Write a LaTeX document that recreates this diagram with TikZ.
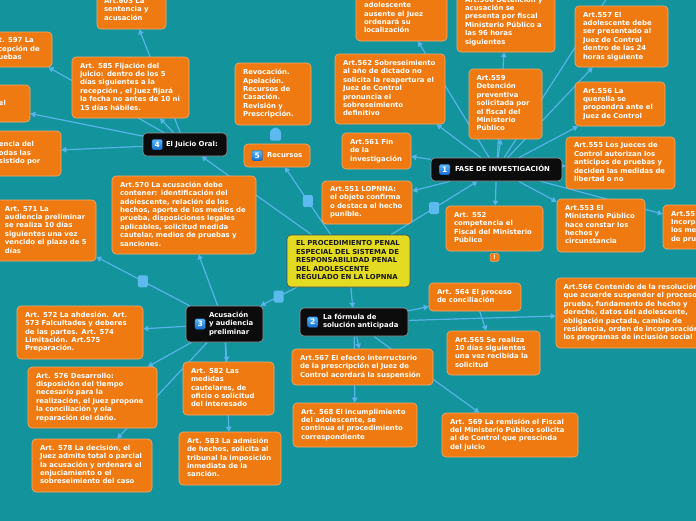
\documentclass[tikz,border=0pt]{standalone}
\usepackage{fontspec}
\newfontfamily\df{DejaVu Sans}
\usetikzlibrary{arrows.meta}
\definecolor{bgc}{RGB}{19,147,155}
\definecolor{orc}{RGB}{238,122,17}
\definecolor{orb}{RGB}{246,172,112}
\definecolor{lnc}{RGB}{86,180,232}
\definecolor{sqc}{RGB}{92,186,238}
\definecolor{ylc}{RGB}{227,219,34}
\definecolor{blk}{RGB}{12,12,12}
\definecolor{icT}{RGB}{90,185,250}
\definecolor{icB}{RGB}{20,110,210}
\pgfdeclarelayer{back}
\pgfsetlayers{back,main}
\newcommand\T[1]{\begin{tabular}{@{}l@{}}#1\end{tabular}}
\newcommand\bx[8]{%
 \pgfmathsetmacro\bxcx{(#3+#5)/2}%
 \pgfmathsetmacro\bxcy{(#4+#6)/2}%
 \pgfmathsetmacro\bxww{#5-#3}%
 \pgfmathsetmacro\bxhh{#6-#4}%
 \node[#1, minimum width=\bxww pt, minimum height=\bxhh pt, text width=\bxww pt, inner xsep=0pt, inner ysep=0pt] (#2) at (\bxcx,\bxcy) {\noindent\hspace*{#7pt}\T{#8}};}
\begin{document}
\begin{tikzpicture}[x=1pt,y=-1pt,
  ob/.style={rectangle, rounded corners=4pt, fill=orc, draw=orb, line width=0.6pt, text=white, font=\df\bfseries\fontsize{6.9}{8.4}\selectfont},
  bk/.style={rectangle, rounded corners=4pt, fill=blk, draw=gray!80, line width=0.6pt, text=white, font=\df\bfseries\fontsize{6.9}{8.4}\selectfont},
  yl/.style={rectangle, rounded corners=4pt, fill=ylc, draw=black!70, line width=0.6pt, text=black!90, font=\df\bfseries\fontsize{6.9}{8.6}\selectfont},
  conn/.style={draw=lnc, line width=1.2pt, -{Triangle[length=5pt,width=5.5pt]}},
  sq/.style={rectangle, rounded corners=1.5pt, fill=sqc, minimum width=10pt, minimum height=12pt, inner sep=0pt},
  ico/.style={rectangle, rounded corners=1.5pt, top color=icT, bottom color=icB, draw=icB!80!black, line width=0.4pt, minimum size=10.5pt, inner sep=0pt, text=white, font=\df\bfseries\fontsize{7.5}{7.5}\selectfont},
  warnb/.style={rectangle, rounded corners=1.5pt, fill=orc, draw=orb, line width=0.5pt, minimum width=9pt, minimum height=8pt, inner sep=0pt, text=white, font=\df\bfseries\fontsize{6}{6}\selectfont}
]
\useasboundingbox (0,0) rectangle (696,520);

% ---------- nodes ----------
\bx{yl}{n0}{287}{235}{410}{287}{9}{EL PROCEDIMIENTO PENAL\\ESPECIAL DEL SISTEMA DE\\RESPONSABILIDAD PENAL\\DEL ADOLESCENTE\\REGULADO EN LA LOPNNA}

\bx{bk}{n1}{431}{158}{562}{181}{24}{FASE DE INVESTIGACIÓN}
\bx{bk}{n2}{300}{308}{408}{336}{23}{La fórmula de\\solución anticipada}
\bx{bk}{n3}{186}{306}{263}{342}{23}{Acusación\\y audiencia\\preliminar}
\bx{bk}{n4}{143}{133}{227}{156}{23}{El Juicio Oral:}
\bx{ob}{n5}{244}{144}{310}{167}{23}{Recursos}
\node[ico] (i1) at ([xshift=14]n1.west) {1};
\node[ico] (i2) at ([xshift=13]n2.west) {2};
\node[ico] (i3) at ([xshift=14.5]n3.west) {3};
\node[ico] (i4) at ([xshift=14.5]n4.west) {4};
\node[ico] (i5) at ([xshift=13.5]n5.west) {5};

% Juicio oral children
\bx{ob}{n603}{97}{-9}{166}{29}{7}{Art.603 La\\sentencia y\\acusación}
\bx{ob}{n597}{-18}{32}{52}{67}{8}{Art. 597 La\\recepción de\\pruebas}
\bx{ob}{nel}{-70}{85}{30}{122}{69}{el}
\bx{ob}{nenc}{-100}{131}{61}{176}{99}{encia del\\odas las\\sistido por}
\bx{ob}{n585}{72}{57}{189}{118}{8}{Art. 585 Fijación del\\juicio: dentro de los 5\\días siguientes a la\\recepción , el Juez fijará\\la fecha no antes de 10 ni\\15 días hábiles.}

% Recursos child
\bx{ob}{nrev}{235}{63}{311}{125}{8}{Revocación.\\Apelación.\\Recursos de\\Casación.\\Revisión y\\Prescripción.}

% Fase de investigacion children
\bx{ob}{nado}{356}{-12}{447}{41}{8}{\\adolescente\\ausente el Juez\\ordenará su\\localización}
\bx{ob}{n560}{457}{-9}{555}{52}{8}{Art.560 Detención y\\acusación se\\presenta por fiscal\\Ministerio Público a\\las 96 horas\\siguientes}
\bx{ob}{n557}{575}{6}{668}{67}{8}{Art.557 El\\adolescente debe\\ser presentado al\\Juez de Control\\dentro de las 24\\horas siguiente}
\bx{ob}{n562}{335}{54}{445}{124}{8}{Art.562 Sobreseimiento\\al año de dictado no\\solicita la reapertura el\\Juez de Control\\pronuncia el\\sobreseimiento\\definitivo}
\bx{ob}{n559}{469}{69}{542}{139}{7.5}{Art.559\\Detención\\preventiva\\solicitada por\\el fiscal del\\Ministerio\\Público}
\bx{ob}{n556}{575}{82}{665}{126}{8}{Art.556 La\\querella se\\propondrá ante el\\Juez de Control}
\bx{ob}{n561}{342}{133}{411}{169}{8}{Art.561 Fin\\de la\\investigación}
\bx{ob}{n555}{566}{137}{675}{189}{8}{Art.555 Los Jueces de\\Control autorizan los\\anticipos de pruebas y\\deciden las medidas de\\libertad o no}
\bx{ob}{n551}{322}{181}{412}{224}{8}{Art.551 LOPNNA:\\el objeto confirma\\o destaca el hecho\\punible.}
\bx{ob}{n552}{446}{206}{543}{251}{8}{Art. 552\\competencia el\\Fiscal del Ministerio\\Público}
\bx{ob}{n553}{557}{199}{645}{252}{8}{Art.553 El\\Ministerio Público\\hace constar los\\hechos y\\circunstancia}
\bx{ob}{n554}{663}{205}{760}{249}{8}{Art.55\\Incorp\\los me\\de pru}
\node[warnb] (wb) at ([yshift=-6]n552.south) {!};
\coordinate (offtop) at (625,-30);

% Acusacion children
\bx{ob}{n570}{112}{176}{256}{254}{8}{Art.570 La acusación debe\\contener: identificación del\\adolescente, relación de los\\hechos, aporte de los medios de\\prueba, disposiciones legales\\aplicables, solicitud medida\\cautelar, medios de pruebas y\\sanciones.}
\bx{ob}{n571}{-4}{200}{96}{261}{9}{Art. 571 La\\audiencia preliminar\\se realiza 10 días\\siguientes una vez\\vencido el plazo de 5\\días}
\bx{ob}{n572}{17}{306}{143}{359}{8}{Art. 572 La ahdesión. Art.\\573 Falcultades y deberes\\de las partes. Art. 574\\Limitación. Art.575\\Preparación.}
\bx{ob}{n576}{28}{367}{157}{428}{8}{Art. 576 Desarrollo:\\disposición del tiempo\\necesario para la\\realización, el Juez propone\\la conciliación y ola\\reparación del daño.}
\bx{ob}{n578}{32}{439}{152}{492}{8}{Art. 578 La decisión, el\\Juez admite total o parcial\\la acusación y ordenará el\\enjuciamiento o el\\sobreseimiento del caso}
\bx{ob}{n582}{183}{362}{274}{415}{8}{Art. 582 Las\\medidas\\cautelares, de\\oficio o solicitud\\del interesado}
\bx{ob}{n583}{179}{432}{281}{485}{8}{Art. 583 La admisión\\de hechos, solicita al\\tribunal la imposición\\inmediata de la\\sanción.}

% Formula children
\bx{ob}{n564}{429}{283}{521}{311}{8}{Art. 564 El proceso\\de conciliación}
\bx{ob}{n565}{447}{331}{540}{375}{8}{Art.565 Se realiza\\10 días siguientes\\una vez recibida la\\solicitud}
\bx{ob}{n566}{556}{278}{760}{348}{7.5}{Art.566 Contenido de la resolución\\que acuerde suspender el proceso\\prueba, fundamento de hecho y\\derecho, datos del adolescente,\\obligación pactada, cambio de\\residencia, orden de incorporación\\los programas de inclusión social}
\bx{ob}{n567}{292}{349}{433}{385}{8}{Art.567 El efecto interructorio\\de la prescripción el Juez de\\Control acordará la suspensión}
\bx{ob}{n568}{293}{403}{417}{447}{8}{Art. 568 El incumplimiento\\del adolescente, se\\continua el procedimiento\\correspondiente}
\bx{ob}{n569}{442}{413}{578}{457}{8}{Art. 569 La remisión el Fiscal\\del Ministerio Público solicita\\al de Control que prescinda\\del juicio}

% ---------- background and connectors ----------
\begin{pgfonlayer}{back}
\fill[bgc] (-120,-40) rectangle (800,560);
\draw[conn] (n0) -- node[sq,pos=.5] (s1) {} (n1);
\draw[conn] (n0) -- (n2);
\draw[conn] (n0) -- node[sq,pos=.5] (s2) {} (n3);
\draw[conn] (n0) -- (n4);
\draw[conn] (n0) -- node[sq,pos=.5] (s3) {} (n5);
\fill[sqc, rounded corners=1.5pt] ([xshift=-7,yshift=3]n5.north) -- ([xshift=-7,yshift=13]n5.north) -- ([xshift=-1.5,yshift=17]n5.north) -- ([xshift=4,yshift=13]n5.north) -- ([xshift=4,yshift=3]n5.north) -- cycle;
\path (nrev.south) -- (n5.north);
% Juicio oral
\foreach \c in {n603,n597,nel,nenc,n585} \draw[conn] (n4) -- (\c);
% Fase
\foreach \c in {nado,n560,n559,n557,n562,n561,n556,n555,n551,n552,n553,n554} \draw[conn] (n1) -- (\c);
\draw[conn] (n1) -- (offtop);
% Formula
\foreach \c in {n564,n566,n567,n568,n569} \draw[conn] (n2) -- (\c);
\draw[conn] (n564) -- (n565);
% Acusacion
\draw[conn] (n3) -- node[sq,pos=.5] (s4) {} (n571);
\foreach \c in {n570,n572,n576,n578,n582,n583} \draw[conn] (n3) -- (\c);
\end{pgfonlayer}
\end{tikzpicture}
\end{document}
